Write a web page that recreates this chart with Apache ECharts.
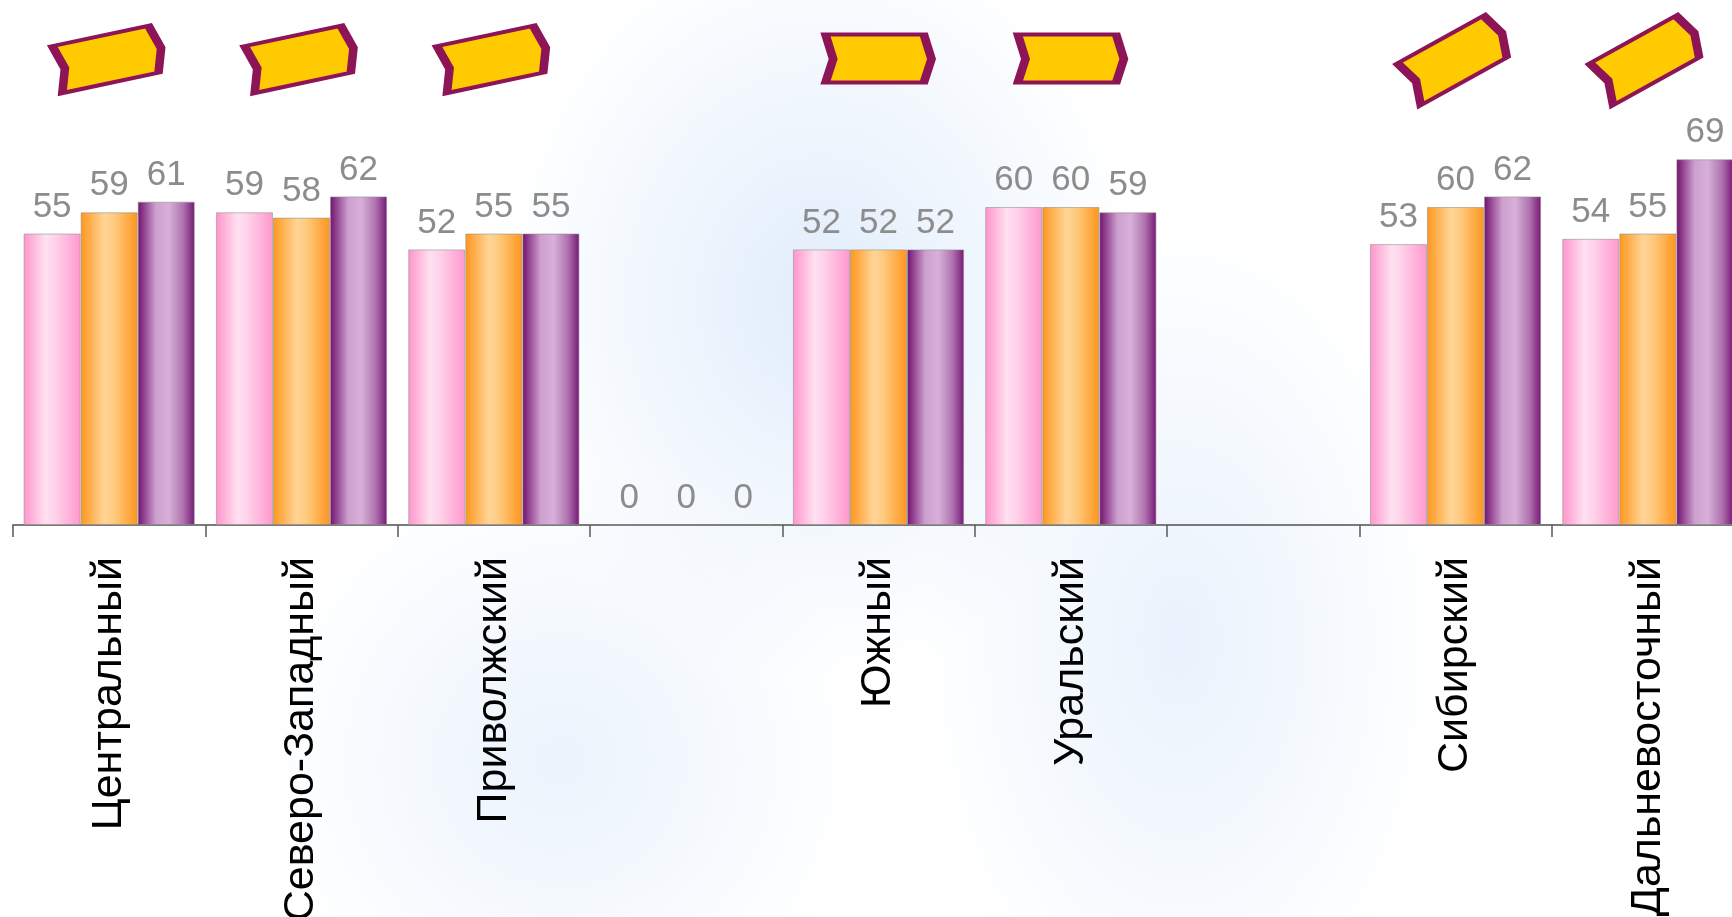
<!DOCTYPE html>
<html>
<head>
<meta charset="utf-8">
<title>Федеральные округа</title>
<script src="https://cdn.jsdelivr.net/npm/echarts@6/dist/echarts.min.js"></script>
<style>
  html, body { margin: 0; padding: 0; width: 1732px; height: 917px; overflow: hidden; }
  body {
    background:
      radial-gradient(ellipse 320px 380px at 820px 300px, rgba(214,231,250,0.75), rgba(214,231,250,0) 100%),
      radial-gradient(ellipse 260px 420px at 1180px 640px, rgba(214,231,250,0.55), rgba(214,231,250,0) 100%),
      radial-gradient(ellipse 300px 300px at 560px 760px, rgba(214,231,250,0.5), rgba(214,231,250,0) 100%),
      #ffffff;
  }
  #chart { width: 1732px; height: 917px; }
</style>
</head>
<body>
<div id="chart"></div>
<script>
// Federal districts (two slots are left empty in the layout)
const categories = [
  'Центральный', 'Северо-Западный', 'Приволжский', '',
  'Южный', 'Уральский', '', 'Сибирский', 'Дальневосточный'
];

// Three yearly series per district
const series1 = [55, 59, 52, 0, 52, 60, null, 53, 54];
const series2 = [59, 58, 55, 0, 52, 60, null, 60, 55];
const series3 = [61, 62, 55, 0, 52, 59, null, 62, 69];

// Trend arrow tilt per district, degrees (null = no arrow)
const trendAngles = [12, 12, 12, null, 0, 0, null, 29, 29];

const FONT = "'Liberation Sans', Arial, sans-serif";
const ARROW_LEVEL = 88;

function barGradient(stops) {
  return new echarts.graphic.LinearGradient(0, 0, 1, 0,
    stops.map(([offset, color]) => ({ offset, color })));
}

const pinkFill = barGradient([[0, '#FF95CA'], [0.38, '#FFE0F1'], [0.55, '#FFD2EA'], [1, '#FF98CC']]);
const orangeFill = barGradient([[0, '#FF961D'], [0.42, '#FFD597'], [0.6, '#FFC97C'], [1, '#FF951D']]);
const purpleFill = barGradient([[0, '#72106D'], [0.32, '#CDA0CF'], [0.55, '#D7B0D8'], [0.8, '#AE72AE'], [1, '#781676']]);

const barLabel = {
  show: true,
  position: 'top',
  distance: 9,
  color: '#8C8C8C',
  fontSize: 35,
  fontFamily: FONT
};

function barSeries(data, fill) {
  return {
    type: 'bar',
    data: data,
    barGap: '0%',
    barCategoryGap: '11%',
    itemStyle: { color: fill, borderColor: 'rgba(140,140,140,0.55)', borderWidth: 1 },
    label: barLabel,
    silent: true
  };
}

const arrowData = trendAngles.map((a, i) =>
  a === null ? null : { value: [i, ARROW_LEVEL], symbolRotate: a });

const chart = echarts.init(document.getElementById('chart'), null, { renderer: 'canvas' });
chart.setOption({
  animation: false,
  backgroundColor: 'transparent',
  grid: {
    left: 13, width: 1731, top: 101, height: 424,
    containLabel: false,
    outerBoundsMode: 'none'
  },
  xAxis: {
    type: 'category',
    data: categories,
    boundaryGap: true,
    axisLine: { lineStyle: { color: '#7A7A7A', width: 2 } },
    axisTick: { show: true, length: 12, lineStyle: { color: '#5A5A5A', width: 1.5 } },
    axisLabel: {
      interval: 0,
      rotate: 90,
      margin: 32,
      color: '#000000',
      fontSize: 43,
      fontFamily: FONT
    }
  },
  yAxis: {
    type: 'value',
    min: 0,
    max: 80,
    show: false,
    splitLine: { show: false }
  },
  series: [
    barSeries(series1, pinkFill),
    barSeries(series2, orangeFill),
    barSeries(series3, purpleFill),
    {
      type: 'scatter',
      data: arrowData,
      symbol: 'path://M0,0 L103,0 L111,25 L103,49 L0,49 L8,25 Z',
      symbolSize: [106, 48],
      itemStyle: { color: '#FFCA00', borderColor: '#8E1458', borderWidth: 6, opacity: 1 },
      silent: true,
      clip: false,
      z: 5
    }
  ]
});
</script>
</body>
</html>
